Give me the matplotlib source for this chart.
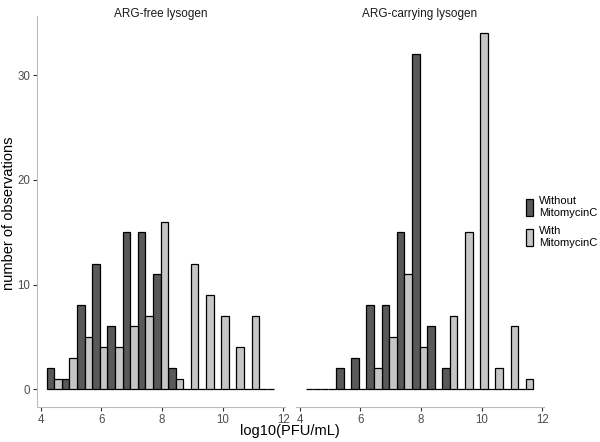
import matplotlib
matplotlib.use("Agg")
import matplotlib.pyplot as plt

plt.rcParams['font.family'] = ['Liberation Sans', 'DejaVu Sans']

# bin centres (binwidth 0.5), shared by both panels
bin_mid = [4.45, 4.95, 5.45, 5.95, 6.45, 6.95, 7.45, 7.95,
           8.45, 8.95, 9.45, 9.95, 10.45, 10.95, 11.45]
bin_w = 0.5

panels = ["ARG-free lysogen", "ARG-carrying lysogen"]
without_mmc = [
    [2, 1, 8, 12, 6, 15, 15, 11, 2, 0, 0, 0, 0, 0, 0],
    [0, 0, 2, 3, 8, 8, 15, 32, 6, 2, 0, 0, 0, 0, 0],
]
with_mmc = [
    [1, 3, 5, 4, 4, 6, 7, 16, 1, 12, 9, 7, 4, 7, 0],
    [0, 0, 0, 0, 2, 5, 11, 4, 0, 7, 15, 34, 2, 6, 1],
]
labels = ["Without\nMitomycinC", "With\nMitomycinC"]
colors = ["#595959", "#c6c6c6"]

fig = plt.figure(figsize=(6, 4.42), dpi=100)
W, H = 600., 442.
ax_bottom = 1 - 407 / H
ax_h = (407 - 15.5) / H
lefts = [37 / W, 296 / W]
ax_w = 248 / W

axes = []
for i in range(2):
    ax = fig.add_axes([lefts[i], ax_bottom, ax_w, ax_h])
    axes.append(ax)
    xs_dark = [m - bin_w / 4 for m in bin_mid]
    xs_light = [m + bin_w / 4 for m in bin_mid]
    ax.bar(xs_dark, without_mmc[i], width=bin_w / 2, color=colors[0],
           edgecolor="black", linewidth=0.9, label=labels[0])
    ax.bar(xs_light, with_mmc[i], width=bin_w / 2, color=colors[1],
           edgecolor="black", linewidth=0.9, label=labels[1])
    ax.set_xlim(3.88, 12.05)
    ax.set_ylim(-1.7, 35.7)
    ax.set_xticks([4, 6, 8, 10, 12])
    # facet strip label
    fig.text(lefts[i] + ax_w / 2, 1 - 13.5 / H, panels[i], ha="center",
             va="center", fontsize=8.5, color="#1a1a1a")
    for s in ["top", "right"]:
        ax.spines[s].set_visible(False)
    ax.spines["bottom"].set_color("#bdbdbd")
    ax.spines["left"].set_color("#bdbdbd")
    ax.tick_params(axis="both", colors="#333333", labelcolor="#4d4d4d",
                   labelsize=8.3, length=3, width=0.8, pad=2)
    if i == 0:
        ax.set_yticks([0, 10, 20, 30])
    else:
        ax.spines["left"].set_visible(False)
        ax.set_yticks([])

fig.text(9 / W, 1 - 213 / H, "number of observations", rotation=90,
         ha="center", va="center", fontsize=10.5)
fig.text(290 / W, 1 - 431 / H, "log10(PFU/mL)", ha="center", va="center",
         fontsize=10.5)

handles, lbls = axes[0].get_legend_handles_labels()
fig.legend(handles, lbls, loc="center left",
           bbox_to_anchor=(522 / W, 1 - 222 / H), frameon=False,
           fontsize=8, handlelength=0.6, handleheight=1.9,
           handletextpad=0.5, labelspacing=0.75, borderaxespad=0)

fig.savefig("out.png", dpi=100)
